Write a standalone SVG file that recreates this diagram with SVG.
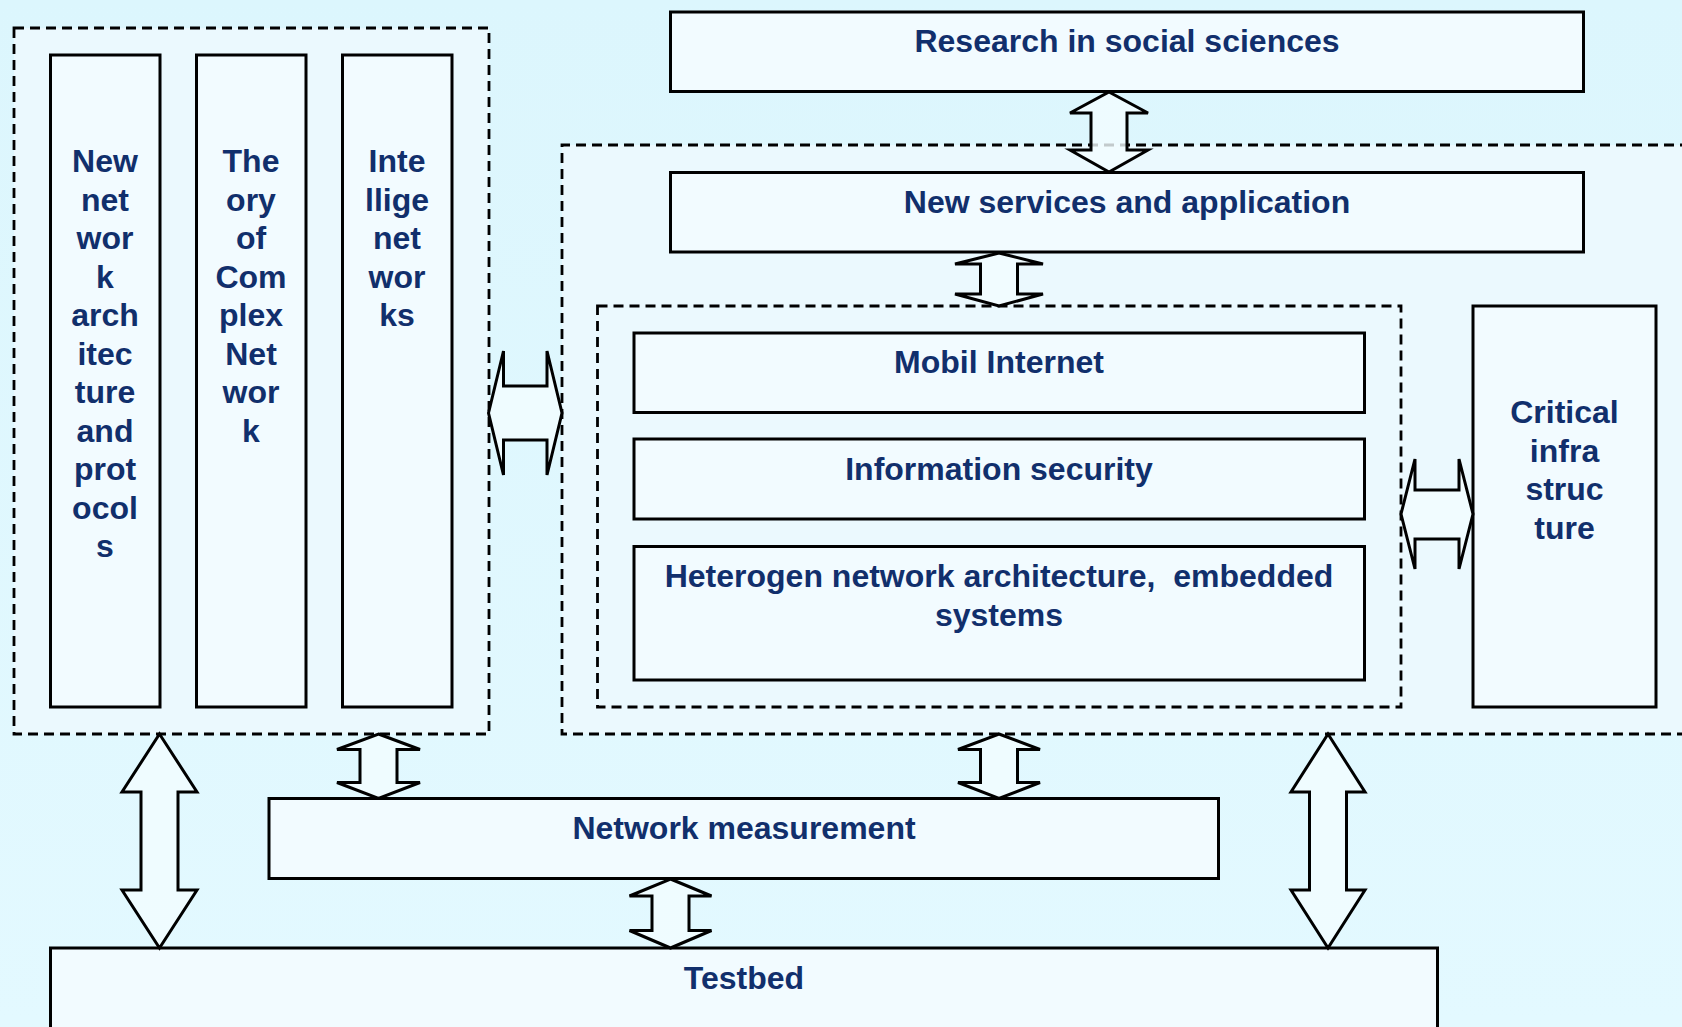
<svg xmlns="http://www.w3.org/2000/svg" width="1682" height="1027" viewBox="0 0 1682 1027">
<defs>
<linearGradient id="bg" x1="0" y1="0" x2="0" y2="1">
<stop offset="0" stop-color="#dcf6fd"/>
<stop offset="1" stop-color="#e3f9ff"/>
</linearGradient>
</defs>
<style>
.box{fill:#f2fbff;stroke:#000;stroke-width:3}
.dash{fill:#ebf9fe;stroke:#000;stroke-width:2.8;stroke-dasharray:10 6}
.arr{fill:#f3fcff;fill-opacity:0.8;stroke:#000;stroke-width:3;stroke-linejoin:miter}
text{font-family:"Liberation Sans",Arial,Helvetica,sans-serif;font-weight:bold;font-size:32px;fill:#112f6c;text-anchor:middle}
</style>
<rect x="0" y="0" width="1682" height="1027" fill="url(#bg)"/>

<g id="group-left">
<rect class="dash" x="14" y="28" width="475" height="706"/>
</g>
<g id="group-right">
<rect x="562" y="145" width="1125" height="589" fill="#ebf9fe"/>
<path class="dash" fill="none" d="M1690 145 H562 V734 H1690"/>
</g>
<g id="group-inner">
<rect class="dash" x="597.5" y="306" width="803.5" height="401"/>
</g>

<g id="node-new-network">
<rect class="box" x="50.5" y="55" width="109.5" height="652"/>
<text x="105" y="172">New</text>
<text x="105" y="210.5">net</text>
<text x="105" y="249">wor</text>
<text x="105" y="287.5">k</text>
<text x="105" y="326">arch</text>
<text x="105" y="364.5">itec</text>
<text x="105" y="403">ture</text>
<text x="105" y="441.5">and</text>
<text x="105" y="480">prot</text>
<text x="105" y="518.5">ocol</text>
<text x="105" y="557">s</text>
</g>
<g id="node-theory">
<rect class="box" x="196.5" y="55" width="109.5" height="652"/>
<text x="251" y="172">The</text>
<text x="251" y="210.5">ory</text>
<text x="251" y="249">of</text>
<text x="251" y="287.5">Com</text>
<text x="251" y="326">plex</text>
<text x="251" y="364.5">Net</text>
<text x="251" y="403">wor</text>
<text x="251" y="441.5">k</text>
</g>
<g id="node-intelligent">
<rect class="box" x="342.5" y="55" width="109.5" height="652"/>
<text x="397" y="172">Inte</text>
<text x="397" y="210.5">llige</text>
<text x="397" y="249">net</text>
<text x="397" y="287.5">wor</text>
<text x="397" y="326">ks</text>
</g>

<g id="node-research">
<rect class="box" x="670.5" y="12" width="913" height="79.5"/>
<text x="1127" y="52">Research in social sciences</text>
</g>
<g id="node-services">
<rect class="box" x="670.5" y="172.5" width="913" height="79.5"/>
<text x="1127" y="213">New services and application</text>
</g>
<g id="node-mobil">
<rect class="box" x="634" y="333" width="730.5" height="79.5"/>
<text x="999" y="373">Mobil Internet</text>
</g>
<g id="node-security">
<rect class="box" x="634" y="439" width="730.5" height="80"/>
<text x="999" y="480">Information security</text>
</g>
<g id="node-heterogen">
<rect class="box" x="634" y="546.5" width="730.5" height="133.5"/>
<text x="999" y="587">Heterogen network architecture,&#160; embedded</text>
<text x="999" y="625.5">systems</text>
</g>
<g id="node-critical">
<rect class="box" x="1473" y="306" width="183" height="401"/>
<text x="1564.5" y="423">Critical</text>
<text x="1564.5" y="461.5">infra</text>
<text x="1564.5" y="500">struc</text>
<text x="1564.5" y="538.5">ture</text>
</g>
<g id="node-measurement">
<rect class="box" x="269" y="798.5" width="949.5" height="80"/>
<text x="744" y="838.5">Network measurement</text>
</g>
<g id="node-testbed">
<rect class="box" x="50.5" y="948" width="1387" height="90"/>
<text x="744" y="988.5">Testbed</text>
</g>

<g id="connectors">
<path class="arr" d="M1109 92 L1148 113 L1127 113 L1127 150 L1148 150 L1109 172 L1070 150 L1091 150 L1091 113 L1070 113 Z"/>
<path class="arr" d="M999 253 L1043 264 L1017.5 264 L1017.5 294 L1043 294 L999 306 L955 294 L980.5 294 L980.5 264 L955 264 Z"/>
<path class="arr" d="M488.5 413 L503.5 351 L503.5 386 L547 386 L547 351 L562 413 L547 475 L547 440 L503.5 440 L503.5 475 Z"/>
<path class="arr" d="M1401 514 L1415 459 L1415 490 L1459 490 L1459 459 L1473 514 L1459 569 L1459 539 L1415 539 L1415 569 Z"/>
<path class="arr" d="M159.5 734 L197 792 L178 792 L178 890 L197 890 L159.5 948 L122 890 L141 890 L141 792 L122 792 Z"/>
<path class="arr" d="M378.5 734 L420 749.5 L397 749.5 L397 782.5 L420 782.5 L378.5 798.5 L337 782.5 L360 782.5 L360 749.5 L337 749.5 Z"/>
<path class="arr" d="M999 734 L1040 749.5 L1017.5 749.5 L1017.5 782.5 L1040 782.5 L999 798.5 L958 782.5 L980.5 782.5 L980.5 749.5 L958 749.5 Z"/>
<path class="arr" d="M670.5 879 L711.5 896 L689 896 L689 930.5 L711.5 930.5 L670.5 948 L629.5 930.5 L652 930.5 L652 896 L629.5 896 Z"/>
<path class="arr" d="M1328 734 L1365 792 L1346.5 792 L1346.5 890 L1365 890 L1328 948 L1291 890 L1309.5 890 L1309.5 792 L1291 792 Z"/>
</g>
</svg>
